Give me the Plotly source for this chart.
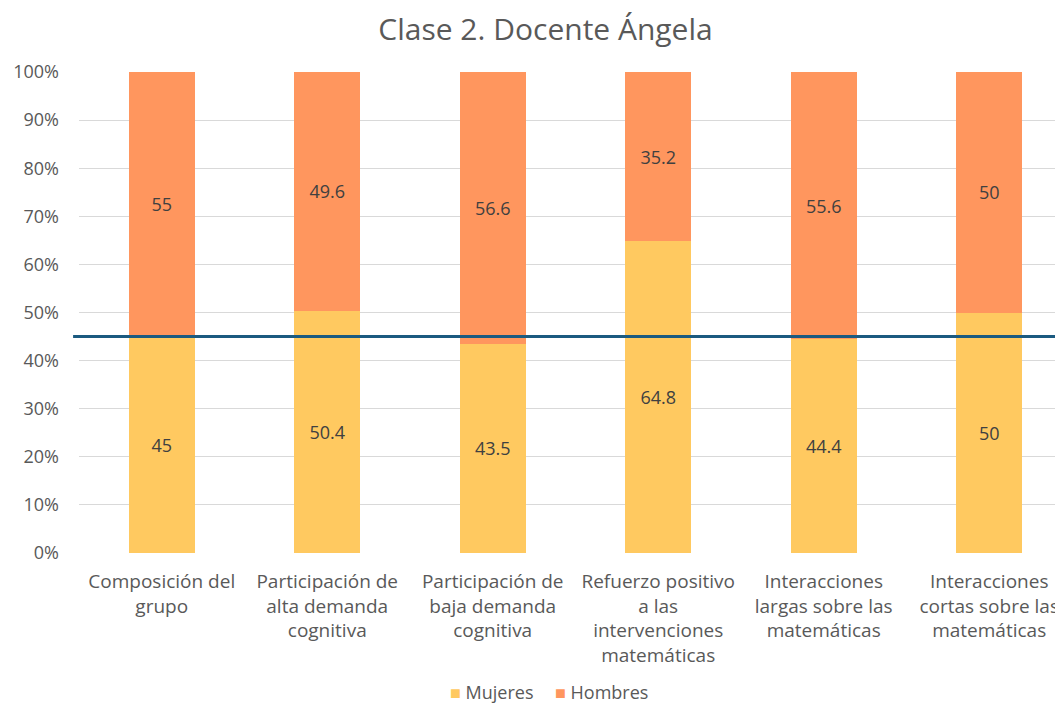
import plotly.graph_objects as go

categories = [
    "Composición del<br>grupo",
    "Participación de<br>alta demanda<br>cognitiva",
    "Participación de<br>baja demanda<br>cognitiva",
    "Refuerzo positivo<br>a las<br>intervenciones<br>matemáticas",
    "Interacciones<br>largas sobre las<br>matemáticas",
    "Interacciones<br>cortas sobre las<br>matemáticas",
]
series_names = ["Mujeres", "Hombres"]
series_colors = ["#FFC960", "#FF965E"]
mujeres = [45, 50.4, 43.5, 64.8, 44.4, 50]
hombres = [55, 49.6, 56.6, 35.2, 55.6, 50]
reference_line = 45
y_ticks = [0, 10, 20, 30, 40, 50, 60, 70, 80, 90, 100]
y_tick_labels = [f"{v}%" for v in y_ticks]

FONT = "Open Sans"
TXT = "#404040"
GRAY = "#595959"

fig = go.Figure()
for name, vals, col in zip(series_names, [mujeres, hombres], series_colors):
    fig.add_trace(go.Bar(
        name=name, x=list(range(len(categories))), y=vals,
        marker=dict(color=col, line=dict(width=0)),
        text=[f"{v:g}" for v in vals], textposition="inside",
        insidetextanchor="middle", textfont=dict(color=TXT, size=18, family=FONT),
        hoverinfo="skip", showlegend=False,
    ))

fig.add_shape(type="line", xref="paper", yref="y", x0=-0.006, x1=1,
              y0=reference_line, y1=reference_line,
              line=dict(color="#1B5A80", width=3), layer="above")

# legend drawn as text annotations
legend_x = [0.375, 0.482]
for name, col, lx in zip(series_names, series_colors, legend_x):
    fig.add_annotation(
        text=f"<span style='color:{col}'>■</span> {name}",
        xref="paper", yref="paper", x=lx, y=-0.289, xanchor="left",
        yanchor="middle", showarrow=False,
        font=dict(family=FONT, size=18, color=GRAY),
    )

fig.update_layout(
    barmode="stack", barnorm="percent", bargap=0.6,
    width=1055, height=698,
    margin=dict(l=71, r=0, t=64, b=153, autoexpand=False),
    paper_bgcolor="white", plot_bgcolor="white",
    font=dict(family=FONT, color=GRAY, size=18),
    title=dict(text="Clase 2. Docente Ángela", x=0.5095, xanchor="center",
               y=0.9685, yanchor="middle",
               font=dict(family=FONT, size=30, color=GRAY)),
    uniformtext=dict(mode="show", minsize=10),
    showlegend=False,
    xaxis=dict(tickmode="array", tickvals=list(range(len(categories))),
               ticktext=categories, range=[-0.5, 5.446], automargin=False,
               showgrid=False, zeroline=False, showline=False,
               ticks="", ticklabelstandoff=15,
               tickfont=dict(size=19, color=GRAY)),
    yaxis=dict(range=[0, 100], tickmode="array", tickvals=y_ticks,
               ticktext=y_tick_labels, showgrid=True, gridcolor="#D9D9D9",
               gridwidth=1, zeroline=False, showline=False, ticks="",
               automargin=False, ticklabelstandoff=19,
               tickfont=dict(size=18, color=GRAY)),
)

fig.write_html("out.html")
